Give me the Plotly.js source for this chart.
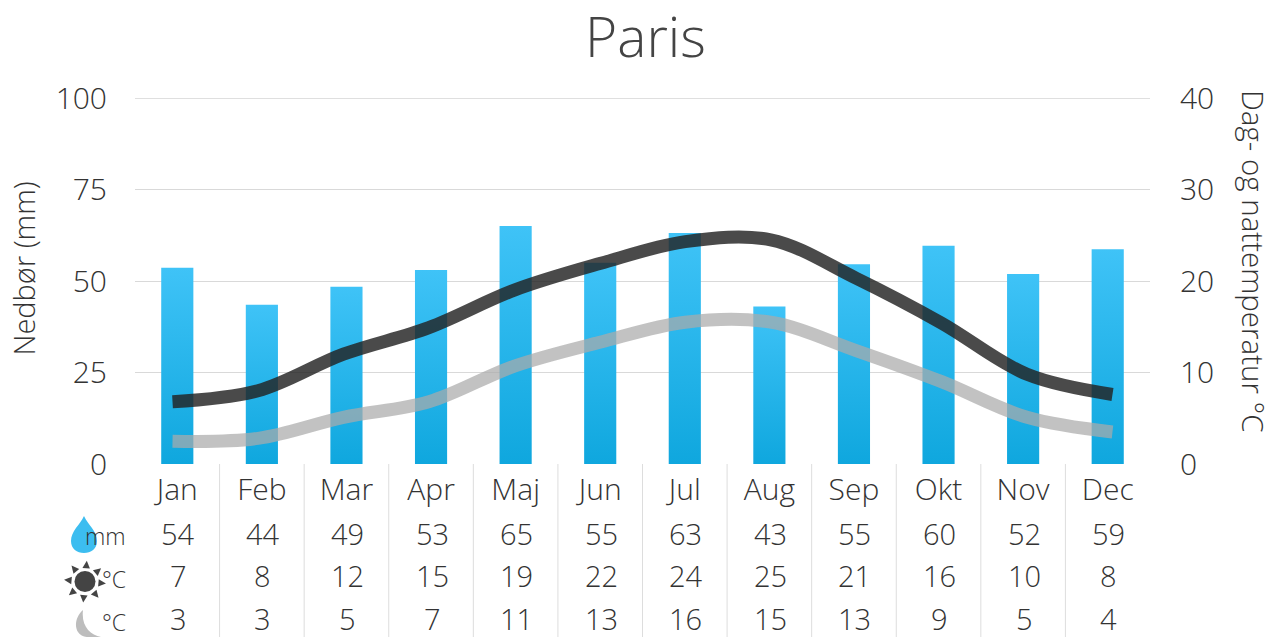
<!DOCTYPE html>
<html><head><meta charset="utf-8">
<script src="https://cdn.plot.ly/plotly-3.0.1.min.js"></script>
<style>html,body{margin:0;padding:0;background:#fff;overflow:hidden}#c{width:1269px;height:637px}</style>
</head><body><div id="c"></div>
<script>
const months=["Jan","Feb","Mar","Apr","Maj","Jun","Jul","Aug","Sep","Okt","Nov","Dec"];
const rainfall=[53.6,43.5,48.4,53,65,55,63.1,43,54.6,59.6,51.9,58.7];
const dayTemp=[6.8,8,12,14.9,19,21.9,24.3,24.5,20.3,15.4,9.8,7.6];
const nightTemp=[2.5,2.8,5.1,6.8,10.7,13.3,15.5,15.5,12.4,9,5.1,3.5];
const linePos=[0,1,2,3,4,5,6,7,8,9,10,11];
const rowRain=[54,44,49,53,65,55,63,43,55,60,52,59];
const rowDay=[7,8,12,15,19,22,24,25,21,16,10,8];
const rowNight=[3,3,5,7,11,13,16,15,13,9,5,4];
const W=1269,H=637,L=135,R=1150,T=98,B=464;
const PW=R-L,PH=B-T;
const fx=x=>((x-L)/PW).toFixed(5), fy=y=>((B-y)/PH).toFixed(5);
const P=(x,y)=>fx(x)+","+fy(y);
const font=(s,c)=>({family:"Open Sans",size:s,color:c||"#333",weight:300});
const traces=[
 {type:"bar",x:months,y:rainfall,width:0.38,marker:{color:"#25b4ec",line:{width:0}},hoverinfo:"skip",yaxis:"y"},
 {type:"scatter",mode:"lines",x:linePos,y:dayTemp,xaxis:"x2",yaxis:"y2",line:{color:"rgba(34,34,34,0.82)",width:13,shape:"spline",smoothing:1},hoverinfo:"skip"},
 {type:"scatter",mode:"lines",x:linePos,y:nightTemp,xaxis:"x2",yaxis:"y2",line:{color:"rgba(170,170,170,0.72)",width:13,shape:"spline",smoothing:1},hoverinfo:"skip"}
];
const ann=[];
[[rowRain,533.5],[rowDay,576],[rowNight,618]].forEach(([row,py])=>{
 row.forEach((v,i)=>ann.push({xref:"x",yref:"paper",x:months[i],xshift:1,y:+fy(py),text:String(v),showarrow:false,xanchor:"center",yanchor:"middle",font:font(29)}));
});
const side=(x,y,t,s,a)=>ann.push({xref:"paper",yref:"paper",x:+fx(x),y:+fy(y),text:t,textangle:a||0,showarrow:false,xanchor:a?"center":"right",yanchor:"middle",font:font(s)});
side(128,536,"mm",23);
side(128,579,"°C",23);
side(128,622,"°C",23);
side(1254,262,"Dag- og nattemperatur °C",29.5,90);
side(24.5,268,"Nedbør (mm)",29,-90);
const shapes=[];
shapes.push({type:"line",xref:"paper",yref:"y",x0:0,x1:1,y0:100,y1:100,line:{color:"#c0c0c0",width:1},layer:"below"});
for(let i=0;i<11;i++){shapes.push({type:"line",xref:"x",yref:"paper",x0:i+0.5,x1:i+0.5,y0:0,y1:+fy(637),line:{color:"#ddd",width:1},layer:"below"});}
// icons
shapes.push({type:"path",xref:"paper",yref:"paper",fillcolor:"#3cbdf0",line:{width:0},
 path:`M${P(84,516)} C${P(88,525)} ${P(97,531)} ${P(97,541)} C${P(97,549)} ${P(91,553)} ${P(84,553)} C${P(77,553)} ${P(71,549)} ${P(71,541)} C${P(71,531)} ${P(80,525)} ${P(84,516)} Z`});
shapes.push({type:"circle",xref:"paper",yref:"paper",x0:+fx(74.5),x1:+fx(95.5),y0:+fy(571),y1:+fy(592),fillcolor:"#444",line:{width:0}});
const sunC=[85,581.7];
for(let k=0;k<8;k++){
 const a=(k*45-85)*Math.PI/180,pt=(r,da)=>P(sunC[0]+r*Math.cos(a+da),sunC[1]+r*Math.sin(a+da));
 shapes.push({type:"path",xref:"paper",yref:"paper",fillcolor:"#444",line:{width:0},path:`M${pt(14,-0.27)} L${pt(21,0)} L${pt(14,0.27)} Z`});
}
shapes.push({type:"path",xref:"paper",yref:"paper",fillcolor:"#bdbdbd",line:{width:0},
 path:`M${P(83,610)} C${P(76,616)} ${P(74,626)} ${P(78,632)} C${P(80,635)} ${P(83,637)} ${P(87,637)} L${P(101,637)} C${P(90,635)} ${P(81,626)} ${P(83,610)} Z`});
const layout={
 width:W,height:H,paper_bgcolor:"#fff",plot_bgcolor:"#fff",showlegend:false,
 margin:{l:L,r:W-R,t:T,b:H-B,pad:0},
 title:{text:"Paris",font:font(55,"#444"),x:(645.5)/W,xanchor:"center",y:1-38/H,yanchor:"middle"},
 xaxis:{type:"category",range:[-0.5,11.5],showgrid:false,zeroline:false,showline:false,ticks:"",ticklabelstandoff:5,tickfont:font(30),automargin:false,fixedrange:true},
 xaxis2:{overlaying:"x",visible:false,range:[-0.439,11.439],fixedrange:true},
 yaxis:{range:[0,100],tickvals:[0,25,50,75,100],gridcolor:"#d9d9d9",gridwidth:1,zeroline:false,showline:false,tickfont:font(30),ticks:"outside",ticklen:21,tickcolor:"rgba(0,0,0,0)",automargin:false},
 yaxis2:{range:[0,40],overlaying:"y",side:"right",tickvals:[0,10,20,30,40],showgrid:false,zeroline:false,showline:false,tickfont:font(30),ticks:"outside",ticklen:23,tickcolor:"rgba(0,0,0,0)",automargin:false},
 annotations:ann,shapes:shapes,bargap:0.62
};
Plotly.newPlot("c",traces,layout,{staticPlot:true,displayModeBar:false}).then(gd=>{
 const svg=gd.querySelector(".main-svg");
 const defs=svg.querySelector("defs");
 const ns="http://www.w3.org/2000/svg";
 const g=document.createElementNS(ns,"linearGradient");
 g.setAttribute("id","barGrad");g.setAttribute("x1","0");g.setAttribute("x2","0");g.setAttribute("y1","0");g.setAttribute("y2","1");
 [["0","#3fc3f7"],["1","#0fa7de"]].forEach(([o,c])=>{const s=document.createElementNS(ns,"stop");s.setAttribute("offset",o);s.setAttribute("stop-color",c);g.appendChild(s);});
 defs.appendChild(g);
 gd.querySelectorAll(".barlayer .point path").forEach(p=>{p.style.fill="url(#barGrad)";});
});
</script></body></html>
